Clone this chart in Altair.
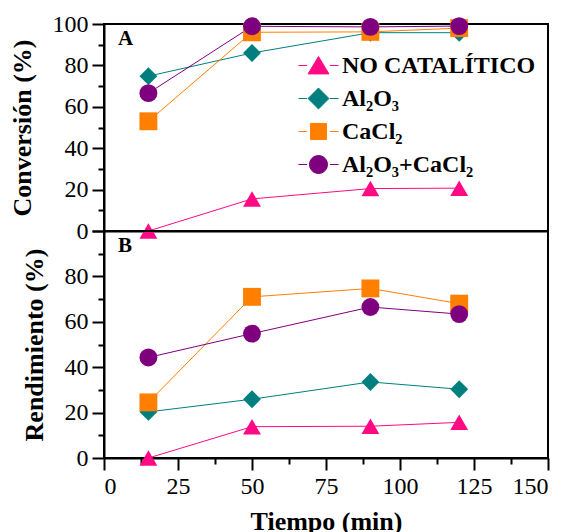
import altair as alt
import pandas as pd

series = ["NO CATALÍTICO", "Al₂O₃", "CaCl₂", "Al₂O₃+CaCl₂"]
colors = ["#FF0A84", "#007F7F", "#FF7F00", "#7F007F"]
shapes = ["triangle-up", "diamond", "square", "circle"]
tiempo = [15, 50, 90, 120]

conversion = {
    "NO CATALÍTICO": [0, 15.5, 20.5, 20.7],
    "Al₂O₃": [74.8, 86, 95.8, 95.8],
    "CaCl₂": [53, 96, 96.2, 98],
    "Al₂O₃+CaCl₂": [66.6, 98.9, 98.6, 99],
}
rendimiento = {
    "NO CATALÍTICO": [0, 13.8, 14, 15.7],
    "Al₂O₃": [20.3, 25.9, 33.5, 30.3],
    "CaCl₂": [24.5, 71, 74.7, 68],
    "Al₂O₃+CaCl₂": [44.3, 54.8, 66.5, 63.4],
}

# legend glyphs (unit = 12 px): short line segments on both sides of the marker
seg = "M-1.67,0H-0.95M0.95,0H1.67"
legend_paths = [
    seg + "M0,-0.75L0.87,0.7L-0.87,0.7Z",
    seg + "M0,-0.87L0.87,0L0,0.87L-0.87,0Z",
    seg + "M-0.67,-0.67H0.67V0.67H-0.67Z",
    seg + "M-0.75,0A0.75,0.75,0,1,0,0.75,0A0.75,0.75,0,1,0,-0.75,0Z",
]

def frame(d):
    rows = []
    for i, s in enumerate(series):
        for t, v in zip(tiempo, d[s]):
            rows.append({"Tiempo": t, "Valor": v, "Serie": s, "orden": i})
    return pd.DataFrame(rows)

FONT = "Liberation Serif, Times New Roman, serif"
W = 444
color_scale = alt.Scale(domain=series, range=colors)

xticks = [i * 12.5 for i in range(13)]
yticks = list(range(0, 101, 10))

def panel(df, ytitle, height, show_x, letter, legend, hide100):
    xaxis = alt.Axis(
        values=xticks,
        labelExpr="datum.value % 25 === 0 ? datum.label : ''",
        tickSize={"condition": {"test": "datum.value % 25 === 0", "value": 12}, "value": 6},
        title="Tiempo (min)" if show_x else None,
        labels=show_x, ticks=show_x, titlePadding=10,
    )
    lab = "datum.value % 20 === 0 ? datum.label : ''"
    if hide100:
        lab = "datum.value % 20 === 0 && datum.value < 100 ? datum.label : ''"
    yaxis = alt.Axis(
        values=yticks,
        labelExpr=lab,
        tickSize={"condition": {"test": "datum.value % 20 === 0", "value": 12}, "value": 6},
        title=ytitle,
    )
    x = alt.X("Tiempo:Q", scale=alt.Scale(domain=[0, 150], nice=False), axis=xaxis)
    y = alt.Y("Valor:Q", scale=alt.Scale(domain=[0, 100], nice=False), axis=yaxis)
    base = alt.Chart(df)
    lines = base.mark_line(strokeWidth=1).encode(
        x=x, y=y,
        color=alt.Color("Serie:N", scale=color_scale, legend=None),
        detail="Serie:N", order="Tiempo:Q",
    )
    layers = [lines]
    for s, shp in zip(series, shapes):
        layers.append(
            base.transform_filter(alt.datum.Serie == s)
            .mark_point(filled=True, size=320, opacity=1, shape=shp)
            .encode(x=x, y=y, color=alt.Color("Serie:N", scale=color_scale, legend=None))
        )
    txt = alt.Chart(pd.DataFrame({"t": [letter]})).mark_text(
        font=FONT, fontSize=21, fontWeight="bold", align="left", baseline="middle", color="black"
    ).encode(x=alt.value(14), y=alt.value(15), text="t:N")
    layers.append(txt)
    if legend:
        leg = alt.Legend(
            orient="none", legendX=202, legendY=29, title=None,
            labelFont=FONT, labelFontSize=24, labelFontWeight="bold", labelColor="black",
            labelLimit=0, symbolSize=576, symbolStrokeWidth=1, rowPadding=8,
            labelOffset=11, symbolOpacity=1,
        )
        legl = base.mark_point(filled=True, size=10, opacity=0).encode(
            x=x, y=y,
            fill=alt.Fill("Serie:N", scale=alt.Scale(domain=series, range=colors), legend=leg),
            stroke=alt.Stroke("Serie:N", scale=alt.Scale(domain=series, range=colors), legend=leg),
            shape=alt.Shape("Serie:N", scale=alt.Scale(domain=series, range=legend_paths), legend=leg),
        )
        layers.append(legl)
    return alt.layer(*layers).properties(width=W, height=height)

top = panel(frame(conversion), "Conversión (%)", 207, False, "A", True, False)
bottom = panel(frame(rendimiento), "Rendimiento (%)", 227, True, "B", False, True)

chart = alt.vconcat(top, bottom, spacing=0, bounds="flush").resolve_scale(
    color="independent"
).configure(
    padding={"left": 0, "top": 3, "right": 5, "bottom": 0}
).configure_view(
    stroke="black", strokeWidth=2
).configure_axis(
    labelFont=FONT, labelFontSize=24, labelColor="black",
    titleFont=FONT, titleFontSize=26, titleFontWeight="bold", titleColor="black",
    domainColor="black", domainWidth=2, tickColor="black", tickWidth=2,
    grid=False, labelPadding=4, titlePadding=17,
)

chart.save("out.html", embed_options={"renderer": "svg", "actions": False})
